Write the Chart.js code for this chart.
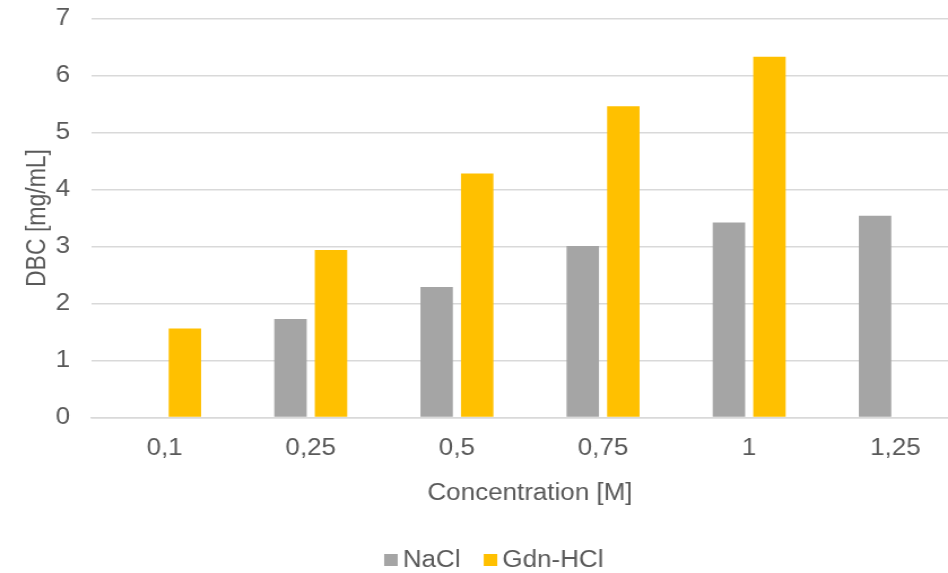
<!DOCTYPE html>
<html>
<head>
<meta charset="utf-8">
<script src="https://cdn.jsdelivr.net/npm/chart.js@4/dist/chart.umd.min.js"></script>
<style>
  html, body { margin: 0; padding: 0; background: #ffffff; }
  #wrap { width: 948px; height: 573px; overflow: hidden; position: relative; }
  /* chart is laid out narrower and widened horizontally */
  #chart { position: absolute; left: 0; top: 0; transform-origin: 0 0; transform: scaleX(1.13); }
</style>
</head>
<body>
<div id="wrap"><canvas id="chart" width="874" height="573"></canvas></div>
<script>
const categories = ['0,1', '0,25', '0,5', '0,75', '1', '1,25'];
const naclValues = [null, 1.73, 2.29, 3.01, 3.42, 3.54];
const gdnValues  = [1.56, 2.94, 4.28, 5.46, 6.33, null];
const yTicks = [0, 1, 2, 3, 4, 5, 6, 7];

const FONT = "'Liberation Sans', Arial, sans-serif";
const TEXT = '#595959';
const GRID = '#d9d9d9';

// Compact legend row below the axis title: square swatch, short gap, label
const bottomLegend = {
  id: 'bottomLegend',
  afterDraw(chart) {
    const ctx = chart.ctx;
    const box = 12, gap = 4.5, spacing = 20.5, cy = 560;
    ctx.save();
    ctx.font = '23px ' + FONT;
    ctx.textBaseline = 'middle';
    const items = chart.data.datasets.map(ds => ({
      text: ds.label, color: ds.backgroundColor, w: ctx.measureText(ds.label).width
    }));
    const total = items.reduce((s, it) => s + box + gap + it.w, 0) + spacing * (items.length - 1);
    let x = chart.width / 2 - total / 2;
    items.forEach(it => {
      ctx.fillStyle = it.color;
      ctx.fillRect(x, cy - box / 2, box, box);
      x += box + gap;
      ctx.fillStyle = TEXT;
      ctx.fillText(it.text, x, cy + 1);
      x += it.w + spacing;
    });
    ctx.restore();
  }
};

new Chart(document.getElementById('chart'), {
  type: 'bar',
  data: {
    labels: categories,
    datasets: [
      { label: 'NaCl', data: naclValues, backgroundColor: '#a5a5a5',
        barPercentage: 0.8, categoryPercentage: 0.555 },
      { label: 'Gdn-HCl', data: gdnValues, backgroundColor: '#ffc000',
        barPercentage: 0.8, categoryPercentage: 0.555 }
    ]
  },
  plugins: [bottomLegend],
  options: {
    responsive: false,
    animation: false,
    events: [],
    layout: { padding: { left: 0, right: 17, top: 18.5, bottom: 65.5 } },
    plugins: {
      tooltip: { enabled: false },
      legend: { display: false }
    },
    scales: {
      x: {
        afterFit: (scale) => { scale.height = 90; },
        grid: { display: false, drawTicks: false },
        border: { display: true, color: GRID, width: 1.5 },
        ticks: { color: TEXT, font: { family: FONT, size: 23 }, padding: 17 },
        title: { display: true, text: 'Concentration [M]', color: TEXT,
                 font: { family: FONT, size: 23 }, padding: { top: 0, bottom: 0 } }
      },
      y: {
        min: 0, max: 7,
        afterBuildTicks: (scale) => { scale.ticks = yTicks.map(v => ({ value: v })); },
        afterFit: (scale) => { scale.width = 81; scale.paddingTop = 0; },
        grid: { color: GRID, lineWidth: 1.5, drawTicks: false },
        border: { display: false },
        ticks: { color: TEXT, font: { family: FONT, size: 23 }, padding: 19 },
        title: { display: true, text: 'DBC [mg/mL]', color: TEXT,
                 font: { family: FONT, size: 23 }, padding: { top: 20, bottom: 0 } }
      }
    }
  }
});
</script>
</body>
</html>
